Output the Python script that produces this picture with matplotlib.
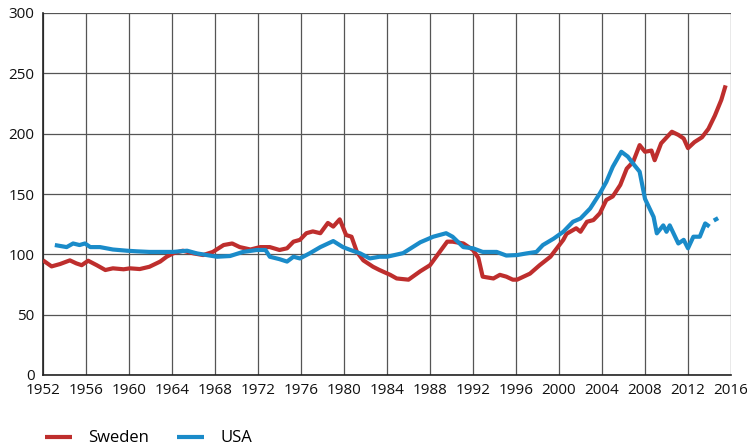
import matplotlib
matplotlib.use("Agg")
import matplotlib.pyplot as plt
import numpy as np

plt.rcParams['font.family'] = ['Open Sans', 'DejaVu Sans']

sweden_years = [1952.0, 1952.8, 1953.6, 1954.5, 1955.1, 1955.6, 1956.2, 1957.0, 1957.8, 1958.5,
                1959.5, 1960.1, 1961.0, 1961.9, 1962.9, 1963.5, 1964.1, 1965.0, 1966.0, 1966.9,
                1967.8, 1968.8, 1969.6, 1970.3, 1971.3, 1972.2, 1973.1, 1974.0, 1974.7, 1975.3,
                1975.9, 1976.5, 1977.1, 1977.8, 1978.5, 1979.0, 1979.6, 1980.2, 1980.7, 1981.2,
                1981.8, 1982.7, 1983.3, 1984.3, 1984.9, 1986.0, 1987.1, 1988.0, 1988.9, 1989.6,
                1990.1, 1991.1, 1992.0, 1992.5, 1992.9, 1993.9, 1994.5, 1995.1, 1995.7, 1996.1,
                1997.3, 1998.2, 1999.2, 1999.8, 2000.4, 2000.7, 2001.6, 2002.0, 2002.6, 2003.2,
                2003.8, 2004.4, 2005.0, 2005.7, 2006.3, 2006.9, 2007.5, 2008.0, 2008.6, 2008.9,
                2009.5, 2010.5, 2011.1, 2011.6, 2012.0, 2012.6, 2013.3, 2013.9, 2014.5, 2015.1,
                2015.5]
sweden_values = [95, 90, 92, 95, 92.5, 91, 94.7, 91, 87, 88.4,
                 87.6, 88.4, 87.8, 89.7, 94, 98, 100.8, 103, 100.8, 99.4,
                 102, 107.7, 109, 106, 104, 106, 106, 103.6, 105, 110.5,
                 112, 117.5, 119, 117.5, 126, 123, 129, 116, 114.6, 102,
                 95, 89.7, 87, 83, 80, 79, 86, 91, 102, 110.5,
                 110.5, 109, 103.6, 97, 81.5, 80, 83, 81.5, 79, 79,
                 84, 91, 98, 105, 112, 117, 121.6, 118.7, 127, 128.4,
                 134, 145, 148, 157.5, 171, 176.7, 190.5, 185, 186, 178,
                 192, 201.6, 199, 196, 188, 193, 197, 204, 215, 228,
                 240]

usa_years = [1953.1, 1954.2, 1954.8, 1955.4, 1955.9, 1956.4, 1957.3, 1958.5, 1959.8, 1960.7,
             1961.9, 1963.2, 1964.1, 1965.4, 1966.3, 1967.5, 1968.2, 1969.4, 1970.6, 1971.9,
             1972.7, 1973.1, 1974.0, 1974.7, 1975.3, 1975.9, 1976.8, 1977.8, 1979.0, 1979.9,
             1980.6, 1981.5, 1982.4, 1983.3, 1984.0, 1985.5, 1987.1, 1988.3, 1989.5, 1990.1,
             1991.1, 1992.0, 1992.9, 1994.2, 1995.1, 1996.1, 1997.0, 1997.9, 1998.5, 1999.5,
             2000.4, 2001.3, 2002.0, 2002.9, 2003.8, 2004.4, 2005.0, 2005.8, 2006.4, 2007.0,
             2007.5, 2008.0, 2008.8, 2009.1, 2009.7, 2010.0, 2010.3, 2011.1, 2011.6, 2012.0,
             2012.5, 2013.1, 2013.6, 2014.0, 2014.2, 2014.4, 2014.8]
usa_values = [107.7, 106, 109, 107.7, 109, 106, 106, 104, 103, 102.5,
              102, 102, 102, 103, 100.8, 99, 98, 98.6, 102, 103.6,
              103.6, 98, 96, 94, 98, 96.6, 100.8, 106, 111, 106,
              103.6, 100.8, 96.6, 98, 98, 101, 110, 114.6, 117.5, 114.6,
              106, 105, 102, 102, 99, 99.4, 100.8, 102, 107.7, 113,
              118.7, 127, 129.7, 138, 150.5, 160, 172.5, 185, 181, 174,
              168.5, 146, 131, 117.4, 124, 118.7, 124, 109, 112, 105,
              114.6, 114.6, 125.6, 123, np.nan, 128, 130]

x_ticks = list(range(1952, 2017, 4))
y_ticks = [0, 50, 100, 150, 200, 250, 300]

fig = plt.figure(figsize=(7.47, 4.48), dpi=100)
ax = fig.add_axes([43/747, 1-375/448, (731-43)/747, (375-13)/448])

red = '#BE2E2D'
blue = '#1A8BC9'

ax.plot(sweden_years, sweden_values, color=red, lw=3.0, solid_capstyle='butt', label='Sweden', zorder=3)
ax.plot(usa_years, usa_values, color=blue, lw=3.0, solid_capstyle='butt', label='USA', zorder=3)

ax.set_xlim(1952, 2016)
ax.set_ylim(0, 300)
ax.set_xticks(x_ticks)
ax.set_yticks(y_ticks)
ax.grid(True, color='#555555', lw=0.9)
ax.set_axisbelow(True)
for s in ['top', 'right']:
    ax.spines[s].set_visible(False)
for s in ['left', 'bottom']:
    ax.spines[s].set_color('#222222')
    ax.spines[s].set_linewidth(1.2)
ax.tick_params(length=0, labelsize=11, colors='#111111', pad=6)

fig.legend(loc='lower left', bbox_to_anchor=(0.04, -0.03), ncol=2, frameon=False,
           fontsize=12, handlelength=1.6, handletextpad=1.0, columnspacing=1.7)

fig.savefig('out.png', dpi=100)
